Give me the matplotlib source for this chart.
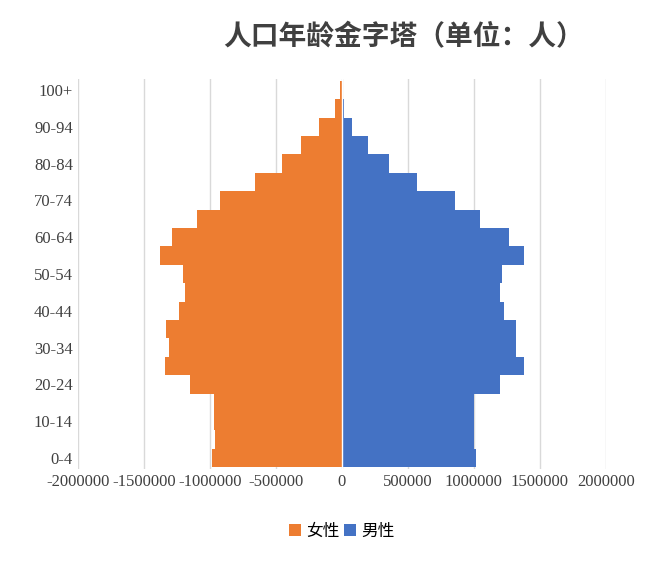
import matplotlib.pyplot as plt
import numpy as np

plt.rcParams['font.family'] = ['Liberation Serif', 'Noto Sans CJK SC', 'DejaVu Sans']

ages = ['0-4', '5-9', '10-14', '15-19', '20-24', '25-29', '30-34', '35-39', '40-44',
        '45-49', '50-54', '55-59', '60-64', '65-69', '70-74', '75-79', '80-84',
        '85-89', '90-94', '95-99', '100+']
male = [1015000, 1000000, 1000000, 1000000, 1200000, 1380000, 1320000, 1320000, 1230000,
        1200000, 1210000, 1380000, 1270000, 1050000, 860000, 570000, 360000,
        200000, 80000, 20000, 5000]
female = [980000, 960000, 970000, 970000, 1150000, 1340000, 1310000, 1330000, 1230000,
          1190000, 1200000, 1380000, 1290000, 1100000, 920000, 660000, 450000,
          310000, 170000, 50000, 15000]

y = np.arange(len(ages))
fig = plt.figure(figsize=(6.48, 5.65), dpi=100)
ax = fig.add_axes([0.12, 0.17, 0.815, 0.69])

ax.barh(y, -np.array(female), height=1.0, color='#ED7D31', linewidth=0, label='女性')
ax.barh(y, male, height=1.0, color='#4472C4', linewidth=0, label='男性')
ax.axvline(0, color='white', linewidth=1)

ax.set_xlim(-2000000, 2000000)
ax.set_ylim(-0.6, len(ages) - 0.4)
ax.set_xticks(np.arange(-2000000, 2000001, 500000))
ax.set_xticklabels([str(v) for v in range(-2000000, 2000001, 500000)],
                   fontsize=12, color='#404040')
ax.set_yticks(y[::2])
ax.set_yticklabels(ages[::2], fontsize=12, color='#404040')
ax.tick_params(length=0)
ax.grid(axis='x', color='#D9D9D9', linewidth=1)
ax.set_axisbelow(True)
for s in ax.spines.values():
    s.set_visible(False)

fig.text(0.623, 0.935, '人口年龄金字塔（单位：人）', ha='center', va='center',
         fontsize=20, fontweight='bold', color='#404040', family=['Noto Sans CJK SC'])
ax.legend(loc='upper center', bbox_to_anchor=(0.5, -0.1), ncol=2, frameon=False,
          handlelength=0.7, handleheight=0.7, columnspacing=0.3, handletextpad=0.3,
          prop={'family': 'Noto Sans CJK SC', 'size': 12})

fig.savefig('out.png')
